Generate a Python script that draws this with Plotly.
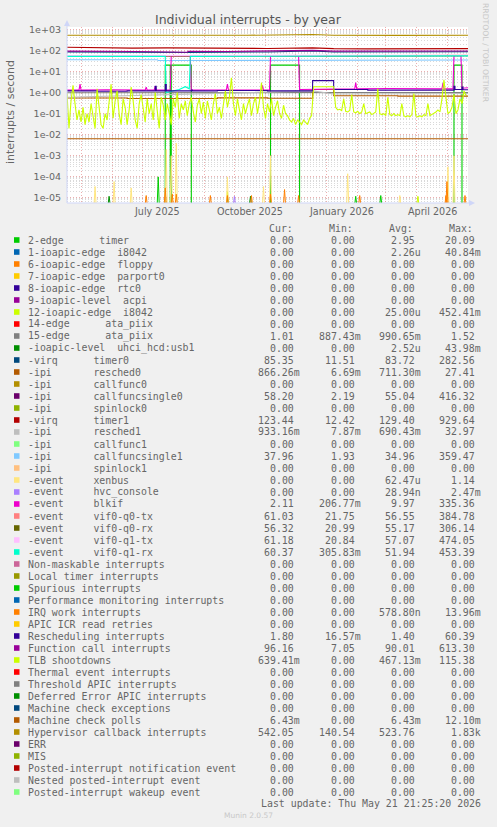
import pandas as pd
import plotly.graph_objects as go

# ---------------- data ----------------
START = pd.Timestamp("2025-04-16 21:25:20")
END = pd.Timestamp("2026-05-21 21:25:20")

series_labels = [
    "2-edge      timer", "1-ioapic-edge  i8042", "6-ioapic-edge  floppy",
    "7-ioapic-edge  parport0", "8-ioapic-edge  rtc0", "9-ioapic-level  acpi",
    "12-ioapic-edge  i8042", "14-edge      ata_piix", "15-edge      ata_piix",
    "-ioapic-level  uhci_hcd:usb1", "-virq      timer0", "-ipi       resched0",
    "-ipi       callfunc0", "-ipi       callfuncsingle0", "-ipi       spinlock0",
    "-virq      timer1", "-ipi       resched1", "-ipi       callfunc1",
    "-ipi       callfuncsingle1", "-ipi       spinlock1", "-event     xenbus",
    "-event     hvc_console", "-event     blkif", "-event     vif0-q0-tx",
    "-event     vif0-q0-rx", "-event     vif0-q1-tx", "-event     vif0-q1-rx",
    "Non-maskable interrupts", "Local timer interrupts", "Spurious interrupts",
    "Performance monitoring interrupts", "IRQ work interrupts", "APIC ICR read retries",
    "Rescheduling interrupts", "Function call interrupts", "TLB shootdowns",
    "Thermal event interrupts", "Threshold APIC interrupts", "Deferred Error APIC interrupts",
    "Machine check exceptions", "Machine check polls", "Hypervisor callback interrupts",
    "ERR", "MIS", "Posted-interrupt notification event", "Nested posted-interrupt event",
    "Posted-interrupt wakeup event",
]

Z = "0.00"
cur_vals = [Z, Z, Z, Z, Z, Z, Z, Z, "1.01", Z, "85.35", "866.26m", Z, "58.20", Z,
            "123.44", "933.16m", Z, "37.96", Z, Z, Z, "2.11", "61.03", "56.32", "61.18",
            "60.37", Z, Z, Z, Z, Z, Z, "1.80", "96.16", "639.41m", Z, Z, Z, Z, "6.43m",
            "542.05", Z, Z, Z, Z, Z]
min_vals = [Z, Z, Z, Z, Z, Z, Z, Z, "887.43m", Z, "11.51", "6.69m", Z, "2.19", Z,
            "12.42", "7.87m", Z, "1.93", Z, Z, Z, "206.77m", "21.75", "20.99", "20.84",
            "305.83m", Z, Z, Z, Z, Z, Z, "16.57m", "7.05", Z, Z, Z, Z, Z, Z,
            "140.54", Z, Z, Z, Z, Z]
avg_vals = ["2.95", "2.26u", Z, Z, Z, Z, "25.00u", Z, "990.65m", "2.52u", "83.72",
            "711.30m", Z, "55.04", Z, "129.40", "690.43m", Z, "34.96", Z, "62.47u",
            "28.94n", "9.97", "56.55", "55.17", "57.07", "51.94", Z, Z, Z, Z, "578.80n",
            Z, "1.40", "90.01", "467.13m", Z, Z, Z, Z, "6.43m", "523.76", Z, Z, Z, Z, Z]
max_vals = ["20.09", "40.84m", Z, Z, Z, Z, "452.41m", Z, "1.52", "43.98m", "282.56",
            "27.41", Z, "416.32", Z, "929.64", "32.97", Z, "359.47", Z, "1.14", "2.47m",
            "335.36", "384.78", "306.14", "474.05", "453.39", Z, Z, Z, Z, "13.96m", Z,
            "60.39", "613.30", "115.38", Z, Z, Z, Z, "12.10m", "1.83k", Z, Z, Z, Z, Z]

# time series as (day offset from START, value) pairs
timer_steps = [(0, 0), (98, 20), (103, 0), (104, 20), (124, 0), (203, 20), (232, 0),
               (386, 20), (394, 0), (400, 0)]
timer_spikes = [(91, 1e-4), (288, 1.2e-5), (313, 1.3e-5)]
i8042_12_spikes = [(160, 2e-5), (350, 1.2e-5)]
ata15 = [(0, 0.98), (100, 1.0), (245, 1.02), (266, 0.99), (400, 1.0)]
uhci_spikes = [(42, 1.2e-5), (160, 1.2e-5), (183, 1.2e-5)]
timer0 = [(0, 85), (60, 82), (120, 80), (200, 84), (245, 95), (266, 84), (330, 83), (400, 86)]
resched0 = [(0, 0.55), (60, 0.52), (150, 0.56), (200, 0.54), (245, 1.4), (266, 0.7),
            (330, 0.68), (400, 0.72)]
callfuncsingle0 = [(0, 56), (100, 54), (200, 55), (300, 54), (400, 57)]
timer1 = [(0, 140), (28, 133), (65, 128), (100, 131), (140, 126), (170, 128), (200, 124),
          (245, 132), (266, 121), (300, 118), (340, 120), (400, 121)]
resched1 = [(0, 0.6), (245, 1.2), (266, 0.85), (400, 0.9)]
callfuncsingle1 = [(0, 36), (90, 36), (91, 33), (245, 35), (266, 34), (400, 35)]
xenbus_spikes = [(28, 3.5e-5), (47, 6e-5), (64, 3e-5), (99, 2e-3), (104, 1e-3), (109, 4e-3),
                 (160, 1e-4), (196, 3.5e-5), (203, 1e-3), (280, 1.4e-4), (332, 1.3e-5),
                 (380, 3e-4), (386, 1e-3)]
hvc_spikes = [(167, 1.2e-5)]
blkif = [(0, 1.3), (12, 1.3), (13, 2.5), (14, 1.3), (40, 1.35), (78, 1.3), (79, 1.8),
         (80, 1.3), (87, 1.3), (88, 2.0), (89, 1.3), (103, 1.3), (104, 56), (123, 56),
         (124, 1.3), (159, 1.35), (160, 2.5), (161, 1.35), (194, 1.3), (195, 2.2),
         (196, 1.3), (202, 1.3), (203, 56), (231, 56), (232, 1.4), (266, 1.5), (287, 1.5),
         (288, 3.0), (289, 1.5), (320, 1.55), (374, 1.5), (375, 2.8), (376, 1.5),
         (385, 1.5), (386, 56), (393, 56), (394, 1.6), (400, 1.7)]
vif_q0_tx = [(0, 56), (120, 55), (245, 58), (266, 56), (400, 58)]
vif_q0_rx = [(0, 55), (150, 54), (400, 56)]
vif_q1_tx = [(0, 57), (200, 56), (400, 59)]
vif_q1_rx = [(0, 52), (98, 52), (99, 1.0), (105, 1.2), (112, 1.4), (118, 1.9), (122, 1.5),
             (123, 52), (245, 53), (266, 50), (400, 55)]
irqwork_spikes = [(79, 1.3e-5), (98, 3e-5), (105, 1.5e-5), (109, 1.5e-5), (143, 1.3e-5),
                  (160, 1.3e-5), (184, 1.3e-5), (203, 1.5e-5), (217, 2.5e-5), (231, 1.3e-5),
                  (292, 1.3e-5), (378, 1.3e-5), (379, 6e-5), (397, 1.3e-5)]
rescheduling = [(0, 1.2), (30, 1.15), (60, 1.2), (88, 2.0), (89, 1.2), (98, 2.4), (99, 1.2),
                (124, 1.3), (125, 1.2), (150, 1.25), (200, 1.2), (245, 3.7), (266, 1.4),
                (300, 1.3), (386, 2.0), (387, 1.4), (394, 1.8), (395, 1.35), (400, 1.4)]
funccall = [(0, 92), (25, 92), (26, 86), (70, 88), (120, 82), (121, 90), (160, 89),
            (245, 100), (266, 92), (330, 90), (400, 94)]
tlb_step_days = 2
tlb = [0.9, 0.02, 0.4, 2.2, 0.3, 0.05, 0.15, 0.04, 0.2, 0.03,
       0.1, 0.04, 0.3, 0.08, 0.02, 1.5, 0.2, 0.03, 0.02, 0.1,
       0.05, 0.3, 2.5, 0.06, 0.4, 1.2, 0.1, 0.03, 0.5, 0.2,
       0.03, 0.15, 1.8, 0.4, 0.05, 0.02, 0.3, 0.8, 0.2, 0.04,
       0.5, 0.1, 0.3, 0.05, 1.0, 0.15, 0.02, 0.6, 0.25, 0.05,
       0.3, 0.1, 0.03, 0.5, 0.2, 1.0, 0.06, 0.3, 0.15, 0.4,
       0.08, 0.3, 0.6, 0.12, 0.04, 0.25, 0.5, 0.1, 0.35, 0.06,
       0.4, 0.15, 0.05, 0.3, 0.9, 0.1, 0.2, 0.06, 0.3, 1.2,
       0.2, 0.6, 5.0, 0.3, 0.08, 0.5, 0.15, 0.05, 0.3, 0.1,
       0.25, 0.5, 0.08, 0.3, 0.6, 0.1, 0.4, 3.0, 0.2, 0.06,
       0.3, 0.12, 0.5, 0.08, 0.2, 0.4, 0.1, 0.06, 0.25, 0.1,
       0.08, 0.05, 0.04, 0.06, 0.03, 0.05, 0.04, 0.03, 0.05, 0.04,
       0.03, 0.06, 0.08, 1.9, 1.9, 1.9, 1.9, 1.9, 1.9, 1.9,
       1.9, 1.9, 1.9, 1.9, 0.2, 0.15, 0.16, 0.14, 0.5, 0.13,
       0.12, 0.14, 0.8, 0.12, 0.11, 0.13, 0.1, 0.12, 0.3, 0.1,
       0.11, 0.12, 0.09, 0.1, 0.12, 1.5, 0.1, 0.09, 0.1, 0.08,
       0.6, 0.09, 0.08, 0.1, 0.08, 0.09, 0.08, 0.3, 0.08, 0.07,
       0.08, 0.07, 0.09, 0.9, 0.08, 0.07, 0.08, 0.07, 0.09, 0.08,
       0.3, 0.08, 0.09, 0.1, 0.12, 0.15, 0.12, 0.5, 4.0, 0.6,
       0.1, 0.12, 0.2, 0.8, 0.1, 0.15, 0.5, 0.3, 1.2, 0.7]
mc_polls = [(0, 0.00643), (400, 0.00643)]
hypervisor = [(0, 525), (40, 525), (41, 518), (120, 520), (180, 522), (245, 565), (266, 520),
              (330, 515), (400, 520)]

y_tick_vals = [1e-5, 1e-4, 1e-3, 1e-2, 1e-1, 1e0, 1e1, 1e2, 1e3]
y_tick_labels = ["1e-05", "1e-04", "1e-03", "1e-02", "1e-01", "1e+00", "1e+01", "1e+02", "1e+03"]
x_label_dates = ["2025-07-16", "2025-10-16", "2026-01-16", "2026-04-16"]
x_labels = ["July 2025", "October 2025", "January 2026", "April 2026"]

# ---------------- style ----------------
PALETTE = ["#00CC00", "#0066B3", "#FF8000", "#FFCC00", "#330099", "#990099", "#CCFF00",
           "#FF0000", "#808080", "#008F00", "#00487D", "#B35A00", "#B38F00", "#6B006B",
           "#8FB300", "#B30000", "#BEBEBE", "#80FF80", "#80C9FF", "#FFC080", "#FFE680",
           "#AA80FF", "#EE00CC", "#FF8080", "#666600", "#FFBFFF", "#00FFCC", "#CC6699",
           "#999900"]
colors = [PALETTE[i % len(PALETTE)] for i in range(len(series_labels))]

W, H = 497, 827
PL, PR, PT, PB = 67, 468, 27, 203
YMIN, YMAX = -5.24, 3.11
FLOOR = 10 ** -5.3  # zero drawn just below the log axis bottom
FONT = "#666666"
SANS = "DejaVu Sans"
MONO = "DejaVu Sans Mono"


def fx(px):
    return (px - PL) / (PR - PL)


def fy(py):
    return (PB - py) / (PB - PT)


def to_dates(days):
    return [START + pd.Timedelta(days=float(d)) for d in days]


fig = go.Figure()


def add_line(pairs, color, shape="linear"):
    d, v = zip(*pairs)
    fig.add_trace(go.Scatter(x=to_dates(d), y=[max(a, FLOOR) for a in v], mode="lines",
                             line=dict(color=color, width=1.1, shape=shape),
                             hoverinfo="skip"))


def add_spikes(pairs, color):
    xs, ys = [], []
    for d, v in pairs:
        xs += to_dates([d - 1, d, d + 1]) + [None]
        ys += [FLOOR, v, FLOOR, None]
    fig.add_trace(go.Scatter(x=xs, y=ys, mode="lines", connectgaps=False,
                             line=dict(color=color, width=1), hoverinfo="skip"))


add_line(timer_steps, colors[0], "hv")
add_spikes(timer_spikes, colors[0])
add_spikes(i8042_12_spikes, colors[6])
add_line(ata15, colors[8])
add_spikes(uhci_spikes, colors[9])
add_line(timer0, colors[10])
add_line(resched0, colors[11], "hv")
add_line(callfuncsingle0, colors[13])
add_line(timer1, colors[15])
add_line(resched1, colors[16])
add_line(callfuncsingle1, colors[18])
add_spikes(xenbus_spikes, colors[20])
add_spikes(hvc_spikes, colors[21])
add_line(blkif, colors[22])
add_line(vif_q0_tx, colors[23])
add_line(vif_q0_rx, colors[24])
add_line(vif_q1_tx, colors[25])
add_line(vif_q1_rx, colors[26])
add_spikes(irqwork_spikes, colors[31])
add_line(rescheduling, colors[33], "hv")
add_line(funccall, colors[34])
add_line([(i * tlb_step_days, v) for i, v in enumerate(tlb)], colors[35])
add_line(mc_polls, colors[40])
add_line(hypervisor, colors[41])

minor_vals = [k * 10.0 ** e for e in range(-6, 4) for k in range(2, 10)]

fig.update_layout(
    width=W, height=H, margin=dict(l=PL, r=W - PR, t=PT, b=H - PB),
    paper_bgcolor="#F0F0F0", plot_bgcolor="#FFFFFF", showlegend=False,
    xaxis=dict(type="date", range=[START, END], tickmode="linear", tick0="2025-01-01",
               dtick="M1", showticklabels=False, ticks="", showgrid=True,
               gridcolor="rgba(225,120,120,0.6)", griddash="1px,2px", gridwidth=1,
               zeroline=False, showline=False),
    yaxis=dict(type="log", range=[YMIN, YMAX], tickmode="array", tickvals=y_tick_vals,
               ticktext=y_tick_labels, ticks="", showgrid=True,
               gridcolor="rgba(225,120,120,0.6)", griddash="1px,2px", gridwidth=1,
               minor=dict(tickmode="array", tickvals=minor_vals, showgrid=True,
                          gridcolor="rgba(170,170,170,0.45)", griddash="1px,2px",
                          ticks=""),
               zeroline=False, showline=False, ticklabelstandoff=5,
               tickfont=dict(family=SANS, size=9.5, color=FONT)),
)

ann = []
shapes = []
# title & axis titles
ann.append(dict(text="Individual interrupts - by year", x=fx(248.5), y=fy(19),
                font=dict(family=SANS, size=12.5, color="#555555")))
ann.append(dict(text="interrupts / second", x=fx(10), y=fy(112), textangle=-90,
                font=dict(family=SANS, size=11, color=FONT)))
ann.append(dict(text="RRDTOOL / TOBI OETIKER", x=fx(486), y=fy(53), textangle=90,
                font=dict(family=SANS, size=7.7, color="#C8C8C8")))
for d, t in zip(x_label_dates, x_labels):
    ann.append(dict(text=t, x=d, xref="x", y=fy(212),
                    font=dict(family=SANS, size=9.6, color=FONT)))

# legend table
ROW0, ROWH = 240, 12
COL_RIGHT = [301.7, 363.3, 423.3, 482.7]
HEAD_X = [266.7, 326.7, 386.7, 446.7]
for hx, h in zip(HEAD_X, ["Cur:", "Min:", "Avg:", "Max:"]):
    ann.append(dict(text=h, x=fx(hx), y=fy(228), xanchor="left",
                    font=dict(family=MONO, size=9.9, color=FONT)))


def cell(s):
    return s if s[-1].isalpha() else s + "\u00a0"


for i, lab in enumerate(series_labels):
    yy = ROW0 + ROWH * i
    shapes.append(dict(type="rect", xref="paper", yref="paper", x0=fx(14), x1=fx(19.5),
                       y0=fy(yy + 2.8), y1=fy(yy - 2.8), fillcolor=colors[i],
                       line=dict(width=0)))
    ann.append(dict(text=lab.replace(" ", "\u00a0"), x=fx(26), y=fy(yy), xanchor="left",
                    font=dict(family=MONO, size=9.9, color=FONT)))
    for cx, vals in zip(COL_RIGHT, [cur_vals, min_vals, avg_vals, max_vals]):
        ann.append(dict(text=cell(vals[i]), x=fx(cx), y=fy(yy), xanchor="right",
                        font=dict(family=MONO, size=9.9, color=FONT)))

ann.append(dict(text="Last update: Thu May 21 21:25:20 2026", x=fx(482.5), y=fy(803.5),
                xanchor="right", font=dict(family=MONO, size=9.9, color=FONT)))
ann.append(dict(text="Munin 2.0.57", x=fx(248), y=fy(816), font=dict(family=SANS, size=7.5,
                                                                    color="#C8C8C8")))

for a in ann:
    a.setdefault("xref", "paper")
    a.setdefault("yref", "paper")
    a.setdefault("xanchor", "center")
    a.setdefault("yanchor", "middle")
    a["showarrow"] = False

# axes with arrows
AX = "#CFD6F8"
shapes.append(dict(type="line", xref="paper", yref="paper", x0=fx(PL), x1=fx(PL),
                   y0=fy(PB), y1=fy(23), line=dict(color=AX, width=1)))
shapes.append(dict(type="line", xref="paper", yref="paper", x0=fx(PL), x1=fx(472),
                   y0=fy(PB), y1=fy(PB), line=dict(color=AX, width=1)))
shapes.append(dict(type="path", xref="paper", yref="paper", fillcolor=AX, line=dict(width=0),
                   path=f"M {fx(64)} {fy(26)} L {fx(70)} {fy(26)} L {fx(67)} {fy(20)} Z"))
shapes.append(dict(type="path", xref="paper", yref="paper", fillcolor=AX, line=dict(width=0),
                   path=f"M {fx(469)} {fy(200)} L {fx(469)} {fy(206)} L {fx(475)} {fy(203)} Z"))

fig.update_layout(annotations=ann, shapes=shapes)
fig.write_html("out.html", config={"displayModeBar": False},
               post_script="document.body.style.margin='0';document.body.style.padding='0';"
                           "document.body.style.background='#F0F0F0';")
